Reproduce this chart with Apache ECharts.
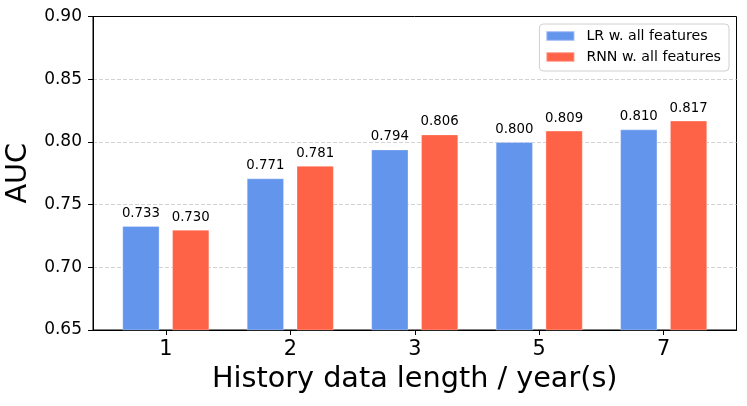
<!DOCTYPE html>
<html>
<head>
<meta charset="utf-8">
<script src="https://cdn.jsdelivr.net/npm/echarts@6/dist/echarts.min.js"></script>
<style>
html,body{margin:0;padding:0;background:#fff;}
#chart{width:747px;height:406px;}
</style>
</head>
<body>
<div id="chart"></div>
<script>
var categories = ['1', '2', '3', '5', '7'];
var lrValues = [0.733, 0.771, 0.794, 0.800, 0.810];
var rnnValues = [0.730, 0.781, 0.806, 0.809, 0.817];
var seriesNames = ['LR w. all features', 'RNN w. all features'];
var yTicks = [0.65, 0.70, 0.75, 0.80, 0.85, 0.90];

var FONT = 'DejaVu Sans';
var catIdx = categories.map(function (c, i) { return i; });

function toPoints(arr) {
  return arr.map(function (v, i) { return [i, v]; });
}

var labelCfg = {
  show: true,
  position: 'top',
  distance: 6,
  fontFamily: FONT,
  fontSize: 13.3,
  color: '#000',
  formatter: function (p) { return p.value[1].toFixed(3); }
};

var chart = echarts.init(document.getElementById('chart'), null, {renderer: 'canvas'});
chart.setOption({
  animation: false,
  backgroundColor: '#fff',
  grid: {
    left: 93, right: 10.5, top: 16.5, bottom: 76,
    outerBoundsMode: 'none',
    containLabel: false,
    show: true, borderColor: '#000', borderWidth: 1, backgroundColor: 'transparent'
  },
  legend: {
    data: seriesNames,
    orient: 'vertical',
    right: 18,
    top: 24,
    icon: 'rect',
    itemWidth: 28,
    itemHeight: 9.5,
    itemGap: 7,
    backgroundColor: '#fff',
    borderColor: '#d0d0d0',
    borderWidth: 1,
    borderRadius: 4,
    padding: [5, 8, 7, 6],
    textStyle: {fontFamily: FONT, fontSize: 14.2, color: '#000', padding: [0, 0, 0, 7]}
  },
  xAxis: {
    type: 'value',
    min: -0.585,
    max: 4.585,
    name: 'History data length / year(s)',
    nameLocation: 'middle',
    nameGap: 34,
    nameTextStyle: {fontFamily: FONT, fontSize: 28.7, color: '#000'},
    axisLine: {show: true, onZero: false, lineStyle: {color: '#000', width: 1}},
    axisTick: {show: true, length: 5, customValues: catIdx, lineStyle: {color: '#000'}},
    axisLabel: {
      customValues: catIdx,
      margin: 9,
      fontFamily: FONT, fontSize: 20.8, color: '#000',
      formatter: function (v) { return categories[Math.round(v)]; }
    },
    splitLine: {show: false}
  },
  yAxis: {
    type: 'value',
    min: yTicks[0],
    max: yTicks[yTicks.length - 1],
    interval: 0.05,
    name: 'AUC',
    nameLocation: 'middle',
    nameGap: 48,
    nameTextStyle: {fontFamily: FONT, fontSize: 28.7, color: '#000'},
    axisLine: {show: true, onZero: false, lineStyle: {color: '#000', width: 1}},
    axisTick: {show: true, length: 5, lineStyle: {color: '#000'}},
    axisLabel: {
      margin: 11,
      fontFamily: FONT, fontSize: 17, color: '#000',
      formatter: function (v) { return v.toFixed(2); }
    },
    splitLine: {
      show: true, showMinLine: false, showMaxLine: false,
      lineStyle: {color: '#d3d3d3', type: [4, 2], width: 1}
    }
  },
  series: [
    {
      name: seriesNames[0],
      type: 'bar',
      data: toPoints(lrValues),
      barWidth: '30%',
      barGap: '33.33%',
      itemStyle: {color: '#6495ED', borderColor: 'rgba(255,255,255,0.3)', borderWidth: 1},
      label: labelCfg
    },
    {
      name: seriesNames[1],
      type: 'bar',
      data: toPoints(rnnValues),
      barWidth: '30%',
      barGap: '33.33%',
      itemStyle: {color: '#FF6347', borderColor: 'rgba(255,255,255,0.3)', borderWidth: 1},
      label: labelCfg
    }
  ]
});
</script>
</body>
</html>
